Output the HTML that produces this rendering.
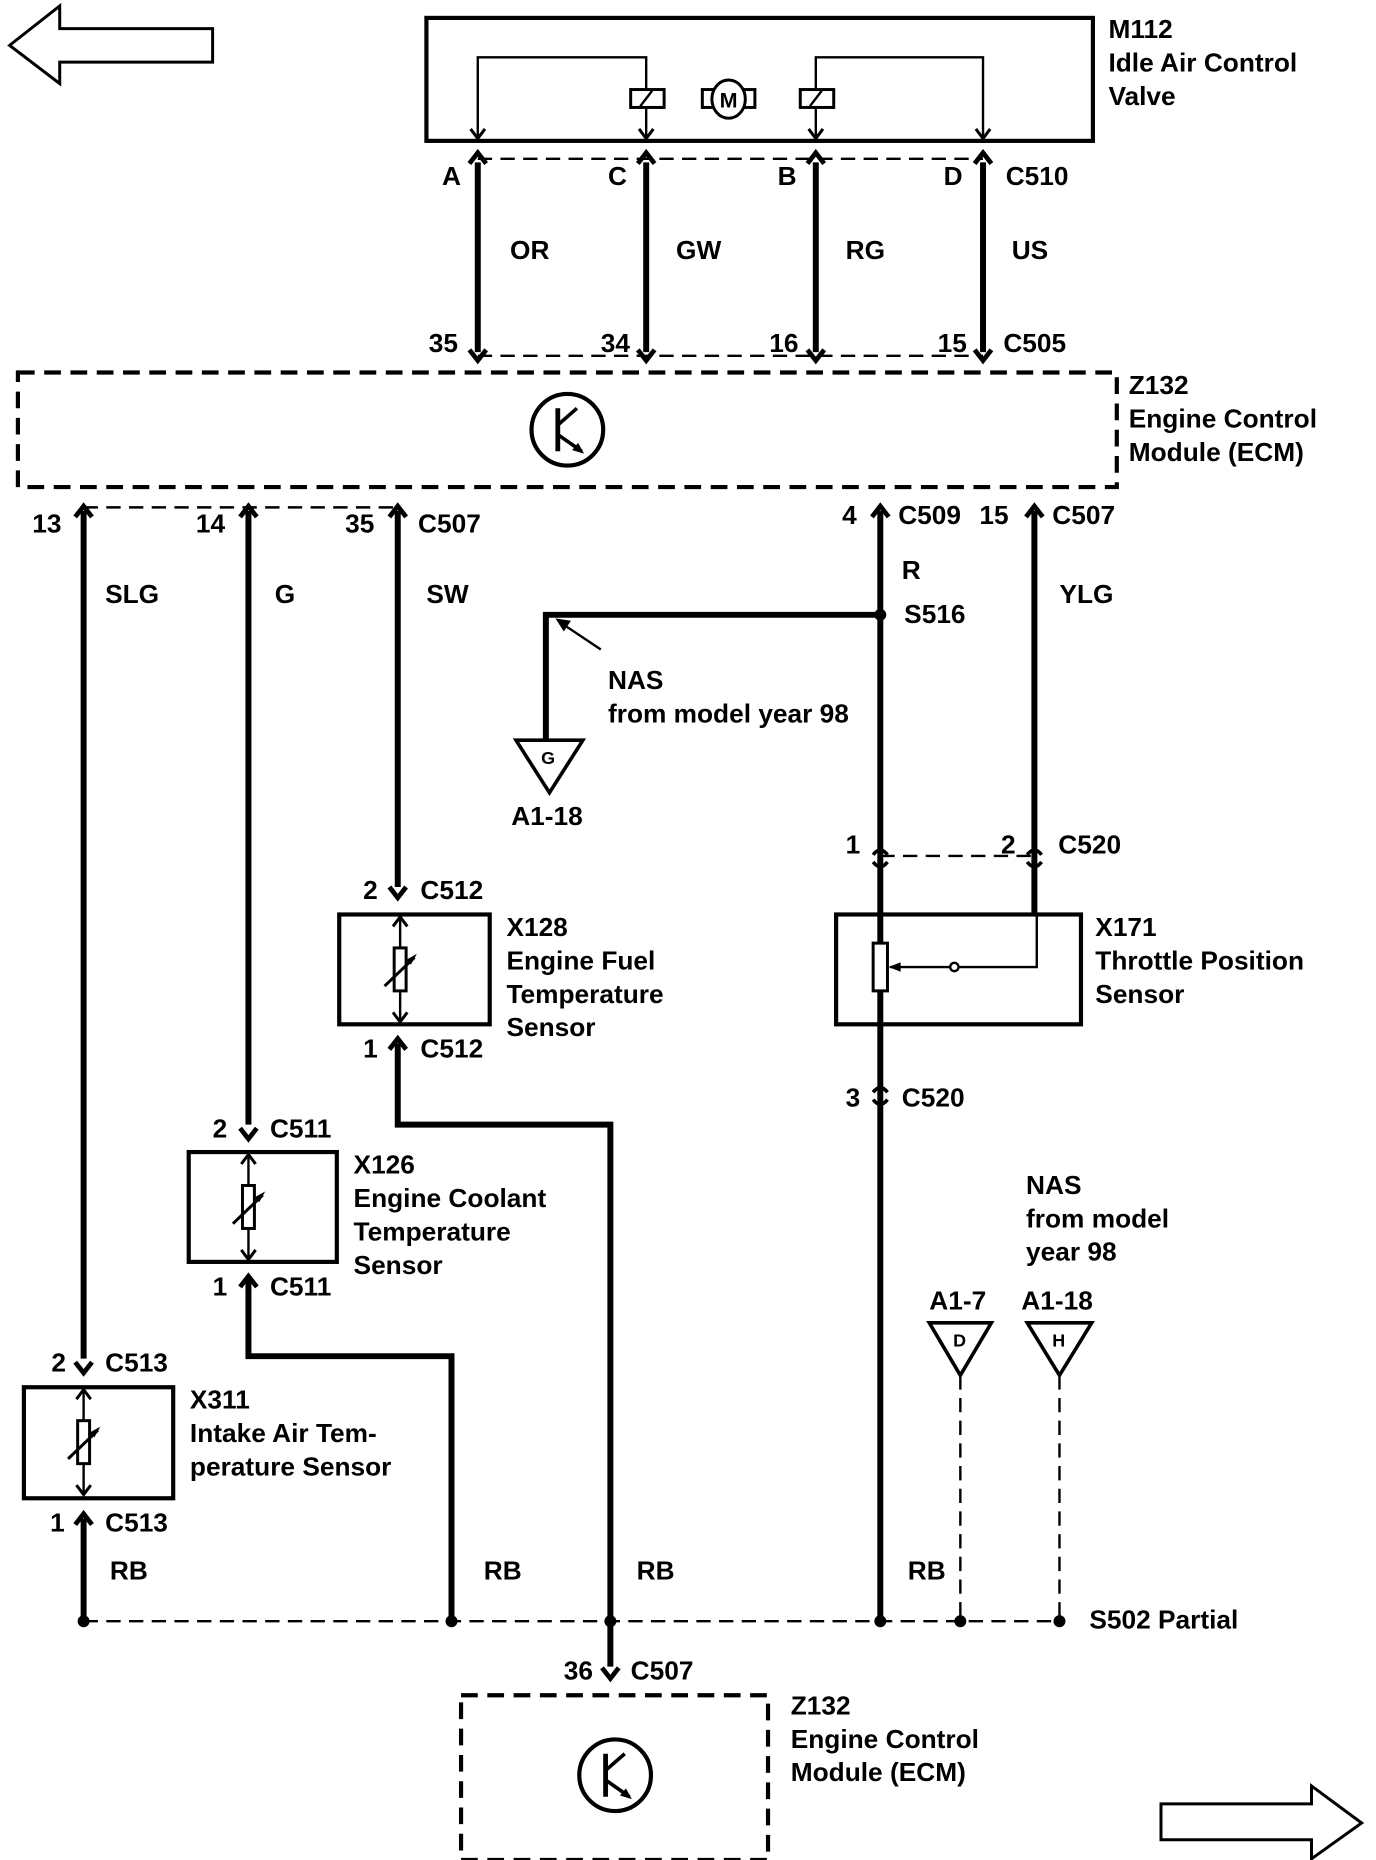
<!DOCTYPE html>
<html><head><style>
html,body{margin:0;padding:0;background:#fff;}
svg{display:block;}
text{font-family:"Liberation Sans",sans-serif;font-weight:bold;font-size:22px;fill:#000;}
</style></head><body>
<svg width="1376" height="1860" viewBox="0 0 1152 1558" preserveAspectRatio="none" xmlns="http://www.w3.org/2000/svg">
<defs>
<g id="th">
<line x1="0" y1="-44" x2="0" y2="44" stroke="#000" stroke-width="2"/>
<path d="M-6,-36 L0,-44 L6,-36 M-6,36 L0,44 L6,36" fill="none" stroke="#000" stroke-width="2.5"/>
<rect x="-5" y="-18" width="10" height="36" fill="#fff" stroke="#000" stroke-width="2.5"/>
<line x1="-13" y1="14" x2="12" y2="-10" stroke="#000" stroke-width="2.5"/>
<path d="M14,-13 L5,-8 L9,-4 Z" fill="#000"/>
</g>
<g id="fy"><path d="M-7,-9 L0,0 L7,-9" fill="none" stroke="#000" stroke-width="4"/></g>
<g id="my"><path d="M-7,9 L0,0 L7,9" fill="none" stroke="#000" stroke-width="4"/></g>
<g id="tr">
<circle cx="0" cy="0" r="30" fill="none" stroke="#000" stroke-width="3.5"/>
<line x1="-8" y1="-18" x2="-8" y2="18" stroke="#000" stroke-width="4"/>
<line x1="-8" y1="-4" x2="8" y2="-18" stroke="#000" stroke-width="3"/>
<line x1="-8" y1="4" x2="12" y2="18" stroke="#000" stroke-width="3"/>
<path d="M14,20 L4,17 L9,11 Z" fill="#000"/>
</g>
</defs>

<polygon points="8,38 50,5 50,24 178,24 178,52 50,52 50,70" fill="none" stroke="#000" stroke-width="2.5"/>
<polygon points="1140,1527 1098,1496 1098,1511 972,1511 972,1541 1098,1541 1098,1557" fill="none" stroke="#000" stroke-width="2.5"/>

<rect x="357" y="15" width="558" height="103" fill="none" stroke="#000" stroke-width="3.5"/>
<path d="M400,116 L400,48 L541,48 L541,116 M683,116 L683,48 L823,48 L823,116" fill="none" stroke="#000" stroke-width="2"/>
<path d="M394,108 L400,116 L406,108 M535,108 L541,116 L547,108 M677,108 L683,116 L689,108 M817,108 L823,116 L829,108" fill="none" stroke="#000" stroke-width="2.5"/>
<rect x="528" y="75" width="28" height="15" fill="#fff" stroke="#000" stroke-width="2.5"/>
<line x1="536" y1="89" x2="546" y2="76" stroke="#000" stroke-width="2"/>
<rect x="670" y="75" width="28" height="15" fill="#fff" stroke="#000" stroke-width="2.5"/>
<line x1="678" y1="89" x2="688" y2="76" stroke="#000" stroke-width="2"/>
<rect x="588" y="75" width="44" height="15" fill="#fff" stroke="#000" stroke-width="2.5"/>
<ellipse cx="610" cy="83" rx="14" ry="16" fill="#fff" stroke="#000" stroke-width="2.5"/>
<text x="610" y="90" text-anchor="middle" style="font-size:18px">M</text>
<text x="928" y="32">M112</text><text x="928" y="60">Idle Air Control</text><text x="928" y="88">Valve</text>

<line x1="400" y1="133" x2="823" y2="133" stroke="#000" stroke-width="2" stroke-dasharray="12,7"/>
<line x1="400" y1="298" x2="823" y2="298" stroke="#000" stroke-width="2" stroke-dasharray="12,7"/>
<g stroke="#000" stroke-width="5">
<line x1="400" y1="136" x2="400" y2="295"/><line x1="541" y1="136" x2="541" y2="295"/>
<line x1="683" y1="136" x2="683" y2="295"/><line x1="823" y1="136" x2="823" y2="295"/>
</g>
<use href="#my" x="400" y="128"/><use href="#my" x="541" y="128"/><use href="#my" x="683" y="128"/><use href="#my" x="823" y="128"/>
<use href="#fy" x="400" y="302"/><use href="#fy" x="541" y="302"/><use href="#fy" x="683" y="302"/><use href="#fy" x="823" y="302"/>
<text x="370" y="155">A</text><text x="509" y="155">C</text><text x="651" y="155">B</text><text x="790" y="155">D</text><text x="842" y="155">C510</text>
<text x="427" y="217">OR</text><text x="566" y="217">GW</text><text x="708" y="217">RG</text><text x="847" y="217">US</text>
<text x="359" y="295">35</text><text x="503" y="295">34</text><text x="644" y="295">16</text><text x="785" y="295">15</text><text x="840" y="295">C505</text>

<rect x="15" y="312" width="920" height="96" fill="none" stroke="#000" stroke-width="3.5" stroke-dasharray="14,8"/>
<use href="#tr" x="475" y="360"/>
<text x="945" y="330">Z132</text><text x="945" y="358">Engine Control</text><text x="945" y="386">Module (ECM)</text>

<line x1="70" y1="425" x2="333" y2="425" stroke="#000" stroke-width="2" stroke-dasharray="12,7"/>
<text x="27" y="446">13</text><text x="164" y="446">14</text><text x="289" y="446">35</text><text x="350" y="446">C507</text>
<text x="705" y="439">4</text><text x="752" y="439">C509</text><text x="820" y="439">15</text><text x="881" y="439">C507</text>
<use href="#my" x="70" y="424"/><use href="#my" x="208" y="424"/><use href="#my" x="333" y="424"/><use href="#my" x="737" y="424"/><use href="#my" x="866" y="424"/>
<text x="88" y="505">SLG</text><text x="230" y="505">G</text><text x="357" y="505">SW</text><text x="755" y="485">R</text><text x="887" y="505">YLG</text>

<g stroke="#000" stroke-width="5" fill="none">
<path d="M70,428 V1138"/>
<path d="M208,428 V942"/>
<path d="M333,428 V743"/>
<path d="M737,428 V1358"/>
<path d="M866,428 V766"/>
<path d="M737,515 H457 V622"/>
<path d="M333,874 V942 H511 V1396"/>
<path d="M208,1072 V1136 H378 V1358"/>
<path d="M70,1272 V1358"/>
</g>
<circle cx="737" cy="515" r="5" fill="#000"/>
<text x="757" y="522">S516</text>
<line x1="503" y1="544" x2="470" y2="522" stroke="#000" stroke-width="2"/>
<path d="M465,518 L478,520 L472,529 Z" fill="#000"/>
<text x="509" y="577">NAS</text><text x="509" y="605">from model year 98</text>
<polygon points="432,620 488,620 460,664" fill="#fff" stroke="#000" stroke-width="3"/>
<text x="453" y="640" style="font-size:15px">G</text>
<text x="428" y="691">A1-18</text>

<use href="#fy" x="333" y="752"/>
<text x="304" y="753">2</text><text x="352" y="753">C512</text>
<rect x="284" y="766" width="126" height="92" fill="none" stroke="#000" stroke-width="3.5"/>
<use href="#th" x="335" y="812"/>
<use href="#my" x="333" y="870"/>
<text x="304" y="886">1</text><text x="352" y="886">C512</text>
<text x="424" y="784">X128</text><text x="424" y="812">Engine Fuel</text><text x="424" y="840">Temperature</text><text x="424" y="868">Sensor</text>

<use href="#fy" x="208" y="954"/>
<text x="178" y="953">2</text><text x="226" y="953">C511</text>
<rect x="158" y="965" width="124" height="92" fill="none" stroke="#000" stroke-width="3.5"/>
<use href="#th" x="208" y="1011"/>
<use href="#my" x="208" y="1069"/>
<text x="178" y="1085">1</text><text x="226" y="1085">C511</text>
<text x="296" y="983">X126</text><text x="296" y="1011">Engine Coolant</text><text x="296" y="1039">Temperature</text><text x="296" y="1067">Sensor</text>

<use href="#fy" x="70" y="1150"/>
<text x="43" y="1149">2</text><text x="88" y="1149">C513</text>
<rect x="20" y="1162" width="125" height="93" fill="none" stroke="#000" stroke-width="3.5"/>
<use href="#th" x="70" y="1208"/>
<use href="#my" x="70" y="1268"/>
<text x="42" y="1283">1</text><text x="88" y="1283">C513</text>
<text x="159" y="1180">X311</text><text x="159" y="1208">Intake Air Tem-</text><text x="159" y="1236">perature Sensor</text>

<line x1="737" y1="717" x2="866" y2="717" stroke="#000" stroke-width="2" stroke-dasharray="12,7"/>
<path d="M731,716 Q737,708 743,716 M731,722 Q737,730 743,722 M860,716 Q866,708 872,716 M860,722 Q866,730 872,722" fill="none" stroke="#000" stroke-width="3"/>
<text x="708" y="715">1</text><text x="838" y="715">2</text><text x="886" y="715">C520</text>
<rect x="700" y="766" width="205" height="92" fill="none" stroke="#000" stroke-width="3.5"/>
<line x1="737" y1="766" x2="737" y2="858" stroke="#000" stroke-width="2"/>
<rect x="731" y="790" width="12" height="40" fill="#fff" stroke="#000" stroke-width="2.5"/>
<path d="M745,810 H868 V766" fill="none" stroke="#000" stroke-width="2"/>
<path d="M744,810 L754,806 L754,814 Z" fill="#000"/>
<circle cx="799" cy="810" r="3.5" fill="#fff" stroke="#000" stroke-width="2"/>
<text x="917" y="784">X171</text><text x="917" y="812">Throttle Position</text><text x="917" y="840">Sensor</text>
<path d="M731,915 Q737,907 743,915 M731,921 Q737,929 743,921" fill="none" stroke="#000" stroke-width="3"/>
<text x="708" y="927">3</text><text x="755" y="927">C520</text>

<text x="859" y="1000">NAS</text><text x="859" y="1028">from model</text><text x="859" y="1056">year 98</text>
<text x="778" y="1097">A1-7</text><text x="855" y="1097">A1-18</text>
<polygon points="778,1108 830,1108 804,1152" fill="#fff" stroke="#000" stroke-width="3"/>
<polygon points="860,1108 914,1108 887,1152" fill="#fff" stroke="#000" stroke-width="3"/>
<text x="798" y="1128" style="font-size:15px">D</text><text x="881" y="1128" style="font-size:15px">H</text>
<line x1="804" y1="1152" x2="804" y2="1358" stroke="#000" stroke-width="2" stroke-dasharray="12,7"/>
<line x1="887" y1="1152" x2="887" y2="1358" stroke="#000" stroke-width="2" stroke-dasharray="12,7"/>

<line x1="70" y1="1358" x2="887" y2="1358" stroke="#000" stroke-width="2" stroke-dasharray="12,7"/>
<g fill="#000"><circle cx="70" cy="1358" r="5"/><circle cx="378" cy="1358" r="5"/><circle cx="511" cy="1358" r="5"/><circle cx="737" cy="1358" r="5"/><circle cx="804" cy="1358" r="5"/><circle cx="887" cy="1358" r="5"/></g>
<text x="92" y="1323">RB</text><text x="405" y="1323">RB</text><text x="533" y="1323">RB</text><text x="760" y="1323">RB</text>
<text x="912" y="1364">S502 Partial</text>

<use href="#fy" x="511" y="1406"/>
<text x="472" y="1407">36</text><text x="528" y="1407">C507</text>
<rect x="386" y="1420" width="257" height="138" fill="none" stroke="#000" stroke-width="3.5" stroke-dasharray="14,8"/>
<use href="#tr" x="515" y="1487"/>
<text x="662" y="1436">Z132</text><text x="662" y="1464">Engine Control</text><text x="662" y="1492">Module (ECM)</text>
</svg>
</body></html>
